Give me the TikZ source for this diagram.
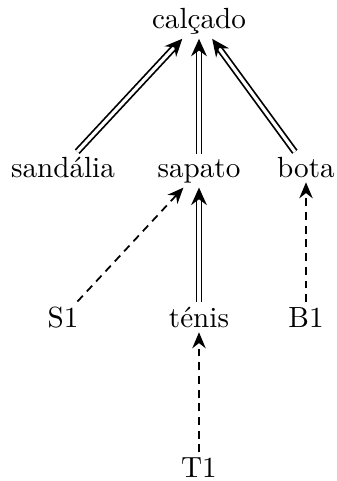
\documentclass[tikz,border=0pt]{standalone}
\usepackage{tikz}
\usetikzlibrary{arrows.meta}
\tikzset{cnode/.style={inner sep=1.5pt, anchor=base}}
\tikzset{isa/.style={double, double distance=1.1pt, line width=0.6pt, -{Stealth[length=6pt, width=5.4pt, inset=2pt]}}}
\tikzset{inst/.style={dash pattern=on 2.7pt off 2pt, line width=0.6pt, -{Stealth[length=5.5pt, width=4.6pt, inset=1.8pt]}}}

\begin{document}
\begin{tikzpicture}[x=0.343pt, y=-0.343pt]
  \useasboundingbox (0,0) rectangle (336,481);

  % classes
  \node[cnode] (calcado) at (199,28) {calçado};
  \node[cnode] (sandalia) at (63,177) {sandália};
  \node[cnode] (sapato) at (199,177) {sapato};
  \node[cnode] (bota) at (306,177) {bota};
  \node[cnode] (tenis) at (199,327) {ténis};

  % instances
  \node[cnode] (s1) at (63,327) {S1};
  \node[cnode] (b1) at (306,327) {B1};
  \node[cnode] (t1) at (199,477) {T1};

  \draw[isa] (sandalia) -- (calcado);
  \draw[isa] (sapato) -- (calcado);
  \draw[isa] (bota) -- (calcado);
  \draw[isa] (tenis) -- (sapato);

  \draw[inst] (s1) -- (sapato);
  \draw[inst] (b1) -- (bota);
  \draw[inst] (t1) -- (tenis);
\end{tikzpicture}
\end{document}
